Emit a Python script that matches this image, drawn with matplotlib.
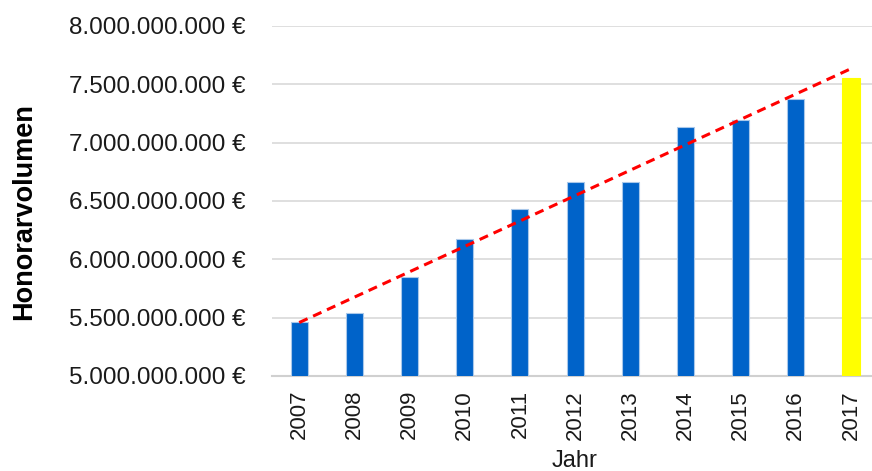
import numpy as np
import matplotlib
matplotlib.use("Agg")
import matplotlib.pyplot as plt
from matplotlib.ticker import FuncFormatter

plt.rcParams['font.family'] = ['Liberation Sans', 'DejaVu Sans']

jahre = ['2007', '2008', '2009', '2010', '2011', '2012', '2013', '2014', '2015', '2016', '2017']
volumen = [5.46e9, 5.54e9, 5.85e9, 6.17e9, 6.43e9, 6.66e9, 6.66e9, 7.13e9, 7.19e9, 7.37e9, 7.55e9]
farben = ['#0063c9'] * 10 + ['#ffff00']

fig = plt.figure(figsize=(8.72, 4.71), dpi=100)
ax = fig.add_axes([0.3115, 0.2017, 0.6885, 0.7431])

x = np.arange(len(jahre))
ax.bar(x, volumen, width=0.31, color=farben, edgecolor=['#a9c8ea'] * 10 + ['#ffff00'],
       linewidth=0.8, zorder=3)

# linearer Trend
k, d = np.polyfit(x, volumen, 1)
ax.plot([x[0], x[-1]], [k * x[0] + d, k * x[-1] + d], color='#ff0000',
        linestyle=(0, (3, 2)), linewidth=2.2, zorder=4)

ax.set_ylim(5e9, 8e9)
ax.set_yticks(np.arange(5e9, 8.01e9, 0.5e9))
ax.yaxis.set_major_formatter(FuncFormatter(lambda v, p: f'{v:,.0f} €'.replace(',', '.')))
ax.set_xlim(-0.5, 10.38)
ax.set_xticks(x)
ax.set_xticklabels(jahre, rotation=90)

ax.grid(axis='y', color='#d9d9d9', linewidth=1.2, zorder=0)
for s in ['top', 'right', 'left']:
    ax.spines[s].set_visible(False)
ax.spines['bottom'].set_color('#d0d0d0')
ax.spines['bottom'].set_linewidth(1.5)
ax.tick_params(length=0, labelsize=16, colors='#1a1a1a')
ax.tick_params(axis='y', pad=19, labelsize=17.5)
ax.tick_params(axis='x', pad=10)

ax.set_xlabel('Jahr', fontsize=17, color='#1a1a1a')
ax.set_ylabel('Honorarvolumen', fontsize=19.5, fontweight='bold', color='black')
ax.xaxis.set_label_coords(0.505, -0.211)
ax.yaxis.set_label_coords(-0.39, 0.469)

fig.savefig('out.png', dpi=100)
